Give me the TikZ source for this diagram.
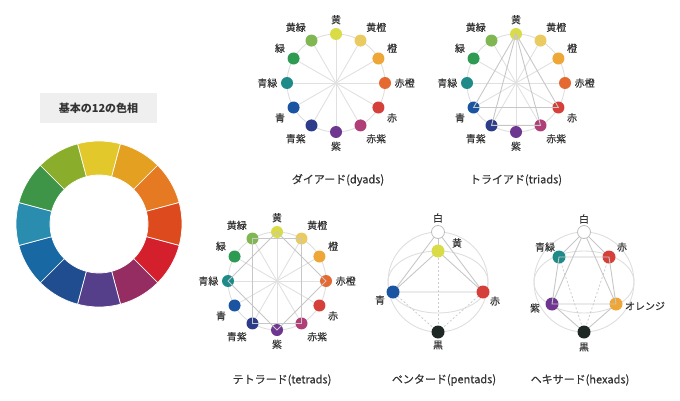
\documentclass[tikz,border=0pt]{standalone}
\usepackage{fontspec}
\setmainfont{Noto Sans CJK JP}
\newfontfamily\labelfont{Noto Sans CJK JP}[FakeBold=0.25]
\newfontfamily\titlefont{Noto Sans CJK JP}[FakeBold=0.45]
\usetikzlibrary{positioning}
\pgfdeclarelayer{back}
\pgfsetlayers{back,main}
% wheel colours
\definecolor{hueY}{HTML}{E3C82B}
\definecolor{hueYO}{HTML}{E3A021}
\definecolor{hueO}{HTML}{E57A22}
\definecolor{hueRO}{HTML}{DD4A1E}
\definecolor{hueR}{HTML}{D41F2D}
\definecolor{hueRP}{HTML}{962D62}
\definecolor{hueP}{HTML}{553F8B}
\definecolor{hueBP}{HTML}{1F4D8F}
\definecolor{hueB}{HTML}{1868A4}
\definecolor{hueBG}{HTML}{2A8DB0}
\definecolor{hueG}{HTML}{3E9548}
\definecolor{hueYG}{HTML}{8AAE2B}
% dot colours
\definecolor{dotY}{HTML}{D9DC47}
\definecolor{dotYO}{HTML}{E9CB62}
\definecolor{dotO}{HTML}{EEA636}
\definecolor{dotRO}{HTML}{E46A32}
\definecolor{dotR}{HTML}{D6403A}
\definecolor{dotRP}{HTML}{B13F77}
\definecolor{dotP}{HTML}{6E3691}
\definecolor{dotBP}{HTML}{2D3B8B}
\definecolor{dotB}{HTML}{1B54A0}
\definecolor{dotBG}{HTML}{1E8B89}
\definecolor{dotG}{HTML}{2F9A52}
\definecolor{dotYG}{HTML}{80B752}
\definecolor{dotK}{HTML}{1E2925}
\definecolor{boxGray}{HTML}{EFEFEF}
\definecolor{inkGray}{HTML}{333333}
\newcommand{\huelist}{黄/dotY/south, 黄橙/dotYO/south west, 橙/dotO/south west, 赤橙/dotRO/west, 赤/dotR/north west, 赤紫/dotRP/north west, 紫/dotP/north, 青紫/dotBP/north east, 青/dotB/north east, 青緑/dotBG/east, 緑/dotG/south east, 黄緑/dotYG/south east}
\newcommand{\hueclock}[2]{% #1 name prefix, #2 centre
  \begin{scope}[shift={#2}]
    \begin{pgfonlayer}{back}
      \draw[ring] (0,0) circle[radius=49];
    \end{pgfonlayer}
    \foreach \nm/\col/\anc [count=\i from 0] in \huelist {
      \node[hdot, fill=\col] (#1\i) at ({90-30*\i}:49) {};
      \node[hlabel, anchor=\anc] (#1l\i) at ({90-30*\i}:57) {\nm};
    }
    \begin{pgfonlayer}{back}
      \foreach \i [evaluate=\i as \j using int(\i+6)] in {0,...,5}
        \draw[spoke] (#1\i.center) -- (#1\j.center);
    \end{pgfonlayer}
  \end{scope}}

\begin{document}
\begin{tikzpicture}[x=1pt, y=1pt,
    ring/.style={draw=black!13, line width=0.9pt},
    spoke/.style={draw=black!12, line width=0.9pt},
    poly/.style={draw=black!22, line width=0.9pt},
    hidden/.style={draw=black!20, line width=0.8pt, dash pattern=on 2pt off 2pt},
    hdot/.style={circle, minimum size=12pt, inner sep=0pt},
    pdot/.style={circle, minimum size=13pt, inner sep=0pt},
    wdot/.style={pdot, fill=white, draw=black!25, line width=0.8pt},
    hlabel/.style={font=\labelfont\fontsize{10}{12}\selectfont, text=inkGray, inner sep=1.5pt},
    title/.style={font=\titlefont\fontsize{11}{13}\selectfont, text=inkGray}]
  \useasboundingbox (0,0) rectangle (680,400);

  % basic wheel
  \node[fill=boxGray, minimum width=117pt, minimum height=30pt, text=inkGray,
        font=\fontsize{11}{13}\selectfont\bfseries] (basic) at (98.5,292) {基本の12の色相};
  \begin{scope}[shift={(99,176)}]
    \foreach \col [count=\i from 0] in {hueY, hueYO, hueO, hueRO, hueR, hueRP, hueP, hueBP, hueB, hueBG, hueG, hueYG} {
      \pgfmathsetmacro\a{105-30*\i}
      \filldraw[fill=\col, draw=white, line width=0.7pt] (\a:83) arc[start angle=\a, end angle=\a-30, radius=83]
        -- ({\a-30}:49) arc[start angle=\a-30, end angle=\a, radius=49] -- cycle;
    }
  \end{scope}

  % dyads
  \hueclock{dy}{(336,317)}
  \node[title] (tdy) at (338,220) {ダイアード(dyads)};

  % triads
  \hueclock{tr}{(516,317)}
  \draw[poly] (tr0.center) -- (tr4.center) -- (tr8.center) -- cycle;
  \draw[poly] (tr0.center) -- (tr5.center) -- (tr7.center) -- cycle;
  \node[title] (ttr) at (516,220) {トライアド(triads)};

  % tetrads
  \hueclock{te}{(277,119)}
  \draw[poly] (te0.center) -- (te3.center) -- (te6.center) -- (te9.center) -- cycle;
  \draw[poly] (te11.center) -- (te1.center) -- (te5.center) -- (te7.center) -- cycle;
  \node[title] (tte) at (282,20) {テトラード(tetrads)};

  % pentads
  \begin{scope}[shift={(438,118)}]
    \node[wdot] (pW) at (0,50) {};
    \node[pdot, fill=dotY] (pY) at (0,31) {};
    \node[pdot, fill=dotB] (pB) at (-45,-10) {};
    \node[pdot, fill=dotR] (pR) at (45,-10) {};
    \node[pdot, fill=dotK] (pK) at (0,-50) {};
    \node[hlabel] (pWl) at (0,64) {白};
    \node[hlabel] (pYl) at (19,39) {黄};
    \node[hlabel] (pBl) at (-58,-18) {青};
    \node[hlabel] (pRl) at (57,-19) {赤};
    \node[hlabel] (pKl) at (0,-63) {黒};
    \begin{pgfonlayer}{back}
      \draw[ring] (0,0) circle[radius=50];
      \draw[ring] (0,0) ellipse[x radius=50, y radius=31];
      \draw[poly] (pW.center) -- (pB.center) -- (pR.center) -- cycle;
      \draw[poly] (pB.center) -- (pY.center) -- (pR.center);
      \draw[poly] (pW.center) -- (pY.center);
      \draw[hidden] (pK.center) -- (pY.center);
      \draw[hidden] (pK.center) -- (pB.center);
      \draw[hidden] (pK.center) -- (pR.center);
    \end{pgfonlayer}
  \end{scope}
  \node[title] (tpe) at (444,20) {ペンタード(pentads)};

  % hexads
  \begin{scope}[shift={(584,118)}]
    \node[wdot] (hW) at (0,50) {};
    \node[pdot, fill=dotBG] (hBG) at (-25,25) {};
    \node[pdot, fill=dotR] (hR) at (25,25) {};
    \node[pdot, fill=dotP] (hP) at (-32,-22) {};
    \node[pdot, fill=dotO] (hO) at (32,-22) {};
    \node[pdot, fill=dotK] (hK) at (0,-50) {};
    \node[hlabel] (hWl) at (0,63) {白};
    \node[hlabel] (hBGl) at (-39,35) {青緑};
    \node[hlabel] (hRl) at (38,35) {赤};
    \node[hlabel] (hPl) at (-49,-26) {紫};
    \node[hlabel] (hOl) at (61,-24) {オレンジ};
    \node[hlabel] (hKl) at (0,-65) {黒};
    \begin{pgfonlayer}{back}
      \draw[ring] (0,0) circle[radius=50];
      \draw[ring] (0,0) ellipse[x radius=50, y radius=31];
      \draw[poly] (hBG.center) -- (hW.center) -- (hR.center);
      \draw[poly] (hP.center) -- (hW.center) -- (hO.center);
      \draw[poly] (hP.center) -- (hK.center) -- (hO.center);
      \draw[hidden] (hK.center) -- (hBG.center);
      \draw[hidden] (hK.center) -- (hR.center);
    \end{pgfonlayer}
    \draw[poly] (hBG.center) -- (hR.center) -- (hO.center) -- (hP.center) -- cycle;
  \end{scope}
  \node[title] (the) at (580,20) {ヘキサード(hexads)};
\end{tikzpicture}
\end{document}
